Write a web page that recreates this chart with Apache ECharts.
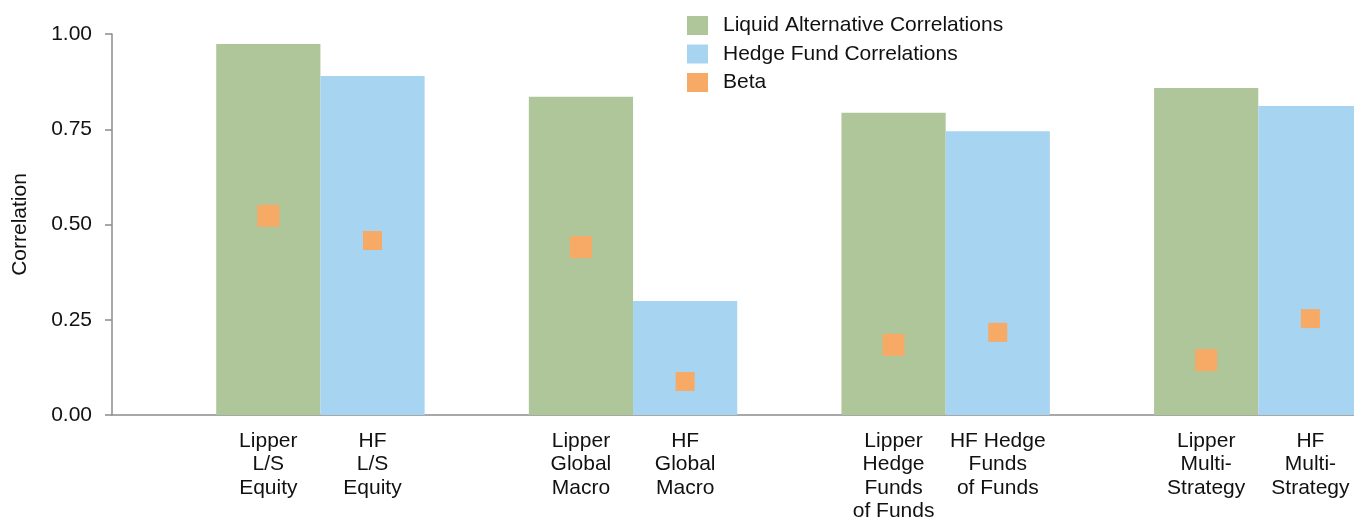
<!DOCTYPE html>
<html>
<head>
<meta charset="utf-8">
<script src="https://cdn.jsdelivr.net/npm/echarts@6/dist/echarts.min.js"></script>
<style>
html,body{margin:0;padding:0;background:#fff;}
#chart{width:1354px;height:522px;}
</style>
</head>
<body>
<div id="chart"></div>
<script>
// Categories (12 slots: blank, Lipper, HF per group)
const categories = [
  '', 'Lipper\nL/S\nEquity', 'HF\nL/S\nEquity',
  '', 'Lipper\nGlobal\nMacro', 'HF\nGlobal\nMacro',
  '', 'Lipper\nHedge\nFunds\nof Funds', 'HF Hedge\nFunds\nof Funds',
  '', 'Lipper\nMulti-\nStrategy', 'HF\nMulti-\nStrategy'
];
const liquidAltCorr = [0.974, 0.835, 0.793, 0.858];
const hedgeFundCorr = [0.890, 0.299, 0.745, 0.811];
const betaLipper = [0.523, 0.441, 0.184, 0.144];
const betaHF = [0.458, 0.088, 0.217, 0.253];
const yTicks = [0, 0.25, 0.5, 0.75, 1.0];

const greenData = [], blueData = [], betaData = [];
for (let g = 0; g < 4; g++) {
  greenData.push(null, liquidAltCorr[g], null);
  blueData.push(null, null, hedgeFundCorr[g]);
  betaData.push(null, betaLipper[g], betaHF[g]);
}

const font = 'Liberation Sans, Arial, sans-serif';
const axisColor = '#8c8c8c';
const chart = echarts.init(document.getElementById('chart'), null, {renderer: 'canvas'});
chart.setOption({
  animation: false,
  textStyle: {fontFamily: font, color: '#111'},
  grid: {left: 112, right: -8.5, top: 34, bottom: 107, containLabel: false, outerBoundsMode: 'none'},
  legend: {
    orient: 'vertical', left: 687, top: 15, padding: 0,
    icon: 'rect', itemWidth: 21, itemHeight: 19, itemGap: 7.5,
    textStyle: {fontFamily: font, fontSize: 21, color: '#111', padding: [0, 0, 0, 10]},
    data: ['Liquid Alternative Correlations', 'Hedge Fund Correlations', 'Beta']
  },
  xAxis: {
    type: 'category', data: categories,
    axisLine: {show: true, lineStyle: {color: axisColor, width: 1.5}},
    axisTick: {show: false},
    axisLabel: {interval: 0, fontFamily: font, fontSize: 21, lineHeight: 23.5, color: '#111', margin: 14}
  },
  yAxis: {
    type: 'value', min: 0, max: 1, interval: 0.25,
    name: 'Correlation', nameLocation: 'middle', nameGap: 81, nameRotate: 90,
    nameTextStyle: {fontFamily: font, fontSize: 21, color: '#111'},
    axisLine: {show: true, lineStyle: {color: axisColor, width: 1.5}},
    axisTick: {show: true, length: 7, lineStyle: {color: axisColor, width: 1.5}},
    splitLine: {show: false},
    axisLabel: {fontFamily: font, fontSize: 21, color: '#111', margin: 20,
      formatter: v => yTicks.includes(v) ? v.toFixed(2) : ''}
  },
  series: [
    {name: 'Liquid Alternative Correlations', type: 'bar', stack: 'c', barWidth: '100%',
     data: greenData, itemStyle: {color: '#afc69b'}},
    {name: 'Hedge Fund Correlations', type: 'bar', stack: 'c', barWidth: '100%',
     data: blueData, itemStyle: {color: '#a7d4f1'}},
    {name: 'Beta', type: 'scatter', symbol: 'rect',
     symbolSize: (v, p) => (p.dataIndex % 3 === 1 ? 22 : 19),
     data: betaData, itemStyle: {color: '#f7a966', opacity: 1}, z: 5}
  ]
});
</script>
</body>
</html>
